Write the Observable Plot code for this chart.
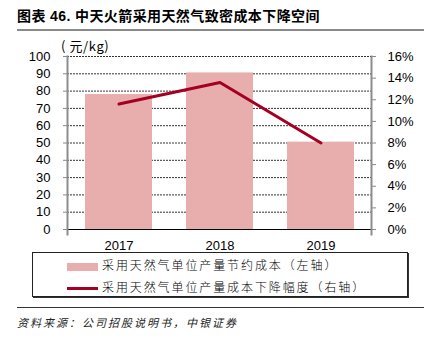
<!DOCTYPE html>
<html><head><meta charset="utf-8">
<script src="https://cdn.jsdelivr.net/npm/d3@7"></script>
<script src="https://cdn.jsdelivr.net/npm/@observablehq/plot@0.6"></script>
<style>
body{margin:0;background:#fff;}
#wrap{position:relative;width:427px;height:346px;overflow:hidden;font-family:"Liberation Sans",Arial,sans-serif;color:#000;}
#title{position:absolute;left:17px;top:7px;font-family:"Liberation Sans","Noto Sans CJK SC",sans-serif;font-weight:bold;font-size:14px;letter-spacing:0.4px;white-space:nowrap;line-height:18px;}
#tline{position:absolute;left:17px;top:29px;width:407px;height:1.5px;background:#8a8a8a;}
#unit{position:absolute;left:61px;top:38px;font-family:"Noto Sans CJK SC",sans-serif;font-size:13px;letter-spacing:0.6px;line-height:16px;white-space:nowrap;background:#fff;padding-right:1px;}
#chart{position:absolute;left:0;top:36px;width:427px;height:222px;}
#chart svg{position:absolute;left:0;top:0;}
#legend{position:absolute;left:32px;top:252px;width:374px;height:43px;border:1.5px solid #222;box-shadow:1px 1px 0 #333;background:#fff;}
.row{position:absolute;left:34px;height:16px;font-family:"Noto Sans CJK SC",sans-serif;font-weight:300;font-size:12px;letter-spacing:1.9px;line-height:16px;white-space:nowrap;}
.sw{display:inline-block;width:31px;vertical-align:middle;margin-right:4px;}
#sline{position:absolute;left:17px;top:307px;width:407px;height:1px;background:#333;}
#source{position:absolute;left:17px;top:314px;font-family:"Noto Sans CJK SC",sans-serif;font-style:italic;font-size:11px;letter-spacing:2px;line-height:16px;color:#222;white-space:nowrap;}
</style></head><body>
<div id="wrap">
 <div id="title">图表 46. 中天火箭采用天然气致密成本下降空间</div>
 <div id="tline"></div>
 <div id="chart"></div>
 <div id="unit">( 元/kg)</div>
 <div id="legend">
  <div class="row" style="top:4px"><span class="sw" id="sw1" style="height:8px"></span><span id="lab1"></span></div>
  <div class="row" style="top:26px"><span class="sw" id="sw2" style="height:3px"></span><span id="lab2"></span></div>
 </div>
 <div id="sline"></div>
 <div id="source">资料来源：公司招股说明书，中银证券</div>
</div>
<script>
const years = ["2017", "2018", "2019"];
const savedCost = [78, 90.5, 50.5];      // 元/kg (left axis)
const costDrop = [11.6, 13.6, 8.0];      // % (right axis)
const leftTicks = [0, 10, 20, 30, 40, 50, 60, 70, 80, 90, 100];
const rightTicks = [0, 2, 4, 6, 8, 10, 12, 14, 16];
const seriesNames = ["采用天然气单位产量节约成本（左轴）", "采用天然气单位产量成本下降幅度（右轴）"];
const barColor = "#E8ADAD";
const lineColor = "#A50021";

const data = years.map((y, i) => ({year: y, cost: savedCost[i], drop: costDrop[i]}));

const common = {
  width: 427, height: 222,
  marginTop: 20, marginBottom: 29, marginLeft: 67, marginRight: 56,
  style: {background: "transparent", fontFamily: "'Liberation Sans', Arial, sans-serif", fontSize: "13px", color: "#000", overflow: "visible"}
};
const xScale = {type: "band", domain: years, paddingInner: 0.34, paddingOuter: 0.17};

const p1 = Plot.plot({
  ...common,
  x: xScale,
  y: {domain: [0, 100]},
  marks: [
    Plot.gridY(leftTicks.filter(d => d > 0), {stroke: "#333", strokeOpacity: 1, strokeDasharray: "2,1"}),
    Plot.barY(data, {x: "year", y: "cost", fill: barColor}),
    Plot.ruleY([0], {stroke: "#000", strokeWidth: 1.2}),
    Plot.axisY({ticks: leftTicks, tickSize: 4, tickPadding: 13, stroke: "#888", fill: "#000", fontSize: 13, label: null}),
    Plot.frame({anchor: "left", stroke: "#8c8c8c", strokeWidth: 2, insetBottom: -5}),
    Plot.axisX({tickSize: 0, tickPadding: 11, fontSize: 13, fill: "#000", label: null})
  ]
});

const p2 = Plot.plot({
  ...common,
  x: {...xScale, axis: null},
  y: {domain: [0, 16]},
  marks: [
    Plot.line(data, {x: "year", y: "drop", stroke: lineColor, strokeWidth: 3}),
    Plot.axisY({anchor: "right", ticks: rightTicks, tickFormat: d => d + "%", tickSize: 4, tickPadding: 12, stroke: "#888", fill: "#000", fontSize: 13, label: null}),
    Plot.frame({anchor: "right", stroke: "#8c8c8c", strokeWidth: 2, insetBottom: -5})
  ]
});

const chart = document.getElementById("chart");
chart.appendChild(p1);
chart.appendChild(p2);

document.getElementById("sw1").style.background = barColor;
document.getElementById("sw2").style.background = lineColor;
document.getElementById("lab1").textContent = seriesNames[0];
document.getElementById("lab2").textContent = seriesNames[1];
</script>
</body></html>
